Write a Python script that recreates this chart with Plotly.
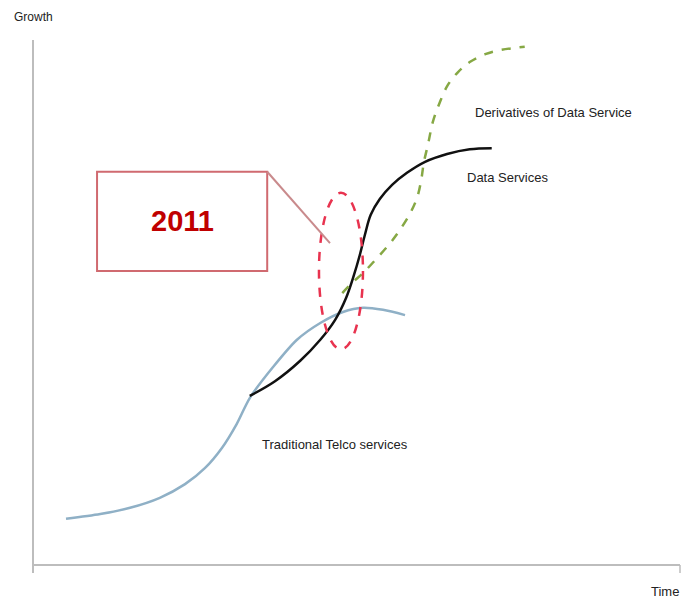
import plotly.graph_objects as go

# Traditional Telco services (S-curve that flattens and dips)
telco_t = [5.1, 10.4, 15.0, 19.6, 23.5, 26.6, 29.2, 31.5, 33.5, 37.1, 40.8, 44.4, 47.9, 51.0, 54.1, 57.5]
telco_g = [8.8, 9.7, 10.9, 12.8, 15.4, 18.5, 22.3, 26.9, 31.8, 37.7, 42.9, 46.1, 48.2, 49.0, 48.6, 47.6]

# Data Services
data_t = [33.5, 37.4, 41.3, 44.4, 46.7, 48.4, 49.6, 50.5, 51.3, 52.2, 53.6, 55.5, 57.8,
          60.6, 64.0, 67.5, 70.9]
data_g = [32.2, 35.0, 38.9, 42.9, 46.7, 50.9, 55.2, 59.0, 62.9, 66.7, 69.7, 72.4, 74.7,
          76.8, 78.3, 79.2, 79.4]

# Derivatives of Data Service
deriv_t = [47.8, 49.3, 51.0, 53.2, 55.2, 56.7, 58.3, 59.4, 60.0, 60.4, 61.1, 61.8, 62.9, 64.1,
           65.7, 67.5, 69.9, 72.2, 74.5, 76.0]
deriv_g = [51.8, 53.7, 55.6, 58.5, 61.3, 63.8, 67.0, 70.1, 73.3, 76.6, 80.4, 84.4, 88.2, 91.4,
           93.9, 95.8, 97.3, 98.1, 98.5, 98.7]

# Highlighted transition window and its callout
ellipse_t = [44.2, 51.0]
ellipse_g = [41.1, 70.9]
box_t = [9.9, 36.2]
box_g = [56.0, 74.9]
callout_t = [36.2, 45.9]
callout_g = [74.9, 61.3]
year_label = "2011"

label_font = "Liberation Sans, Arial, sans-serif"
label_color = "#222222"
axis_grey = "#bdbdbd"

fig = go.Figure()
fig.add_trace(go.Scatter(x=telco_t, y=telco_g, mode="lines", line_shape="spline",
                         line=dict(color="#8fb0c6", width=2.5, smoothing=0.8),
                         name="Traditional Telco services"))
fig.add_trace(go.Scatter(x=data_t, y=data_g, mode="lines", line_shape="spline",
                         line=dict(color="#111111", width=2.5, smoothing=1.0),
                         name="Data Services"))
fig.add_trace(go.Scatter(x=deriv_t, y=deriv_g, mode="lines", line_shape="spline",
                         line=dict(color="#86a844", width=2.5, dash="dash", smoothing=1.0),
                         name="Derivatives of Data Service"))

shapes = [
    # axes
    dict(type="line", xref="paper", yref="paper", x0=0, x1=0, y0=-0.015, y1=1.0,
         line=dict(color=axis_grey, width=2)),
    dict(type="line", xref="paper", yref="paper", x0=0, x1=1.0, y0=0, y1=0,
         line=dict(color=axis_grey, width=2)),
    dict(type="line", xref="paper", yref="paper", x0=1.0, x1=1.0, y0=0, y1=-0.015,
         line=dict(color=axis_grey, width=1.5)),
    # dashed ellipse around the crossover
    dict(type="circle", xref="x", yref="y", x0=ellipse_t[0], x1=ellipse_t[1],
         y0=ellipse_g[0], y1=ellipse_g[1], line=dict(color="#e8334f", width=2.5, dash="dash")),
    # callout box and pointer
    dict(type="rect", xref="x", yref="y", x0=box_t[0], x1=box_t[1], y0=box_g[0], y1=box_g[1],
         line=dict(color="#d06a70", width=2), fillcolor="rgba(0,0,0,0)"),
    dict(type="line", xref="x", yref="y", x0=callout_t[0], x1=callout_t[1],
         y0=callout_g[0], y1=callout_g[1], line=dict(color="#c98a8c", width=2)),
]

annotations = [
    dict(x=(box_t[0] + box_t[1]) / 2, y=(box_g[0] + box_g[1]) / 2, xref="x", yref="y",
         text=f"<b>{year_label}</b>", showarrow=False,
         font=dict(family="Liberation Sans, Arial, sans-serif", size=29, color="#c00000")),
    dict(x=68.0, y=86.1, xref="x", yref="y", xanchor="left", yanchor="middle",
         text="Derivatives of Data Service", showarrow=False,
         font=dict(family=label_font, size=13, color=label_color)),
    dict(x=66.8, y=73.9, xref="x", yref="y", xanchor="left", yanchor="middle",
         text="Data Services", showarrow=False,
         font=dict(family=label_font, size=13, color=label_color)),
    dict(x=35.1, y=22.9, xref="x", yref="y", xanchor="left", yanchor="middle",
         text="Traditional Telco services", showarrow=False,
         font=dict(family=label_font, size=13, color=label_color)),
    dict(x=-0.0325, y=1.044, xref="paper", yref="paper", xanchor="left", yanchor="middle",
         text="Growth", showarrow=False,
         font=dict(family=label_font, size=12, color=label_color)),
    dict(x=1.0015, y=-0.0514, xref="paper", yref="paper", xanchor="right", yanchor="middle",
         text="Time", showarrow=False,
         font=dict(family=label_font, size=13, color=label_color)),
]

fig.update_layout(
    width=682, height=599,
    margin=dict(l=33, r=2, t=40, b=34),
    paper_bgcolor="white", plot_bgcolor="white",
    showlegend=False,
    shapes=shapes, annotations=annotations,
    xaxis=dict(range=[0, 100], visible=False, fixedrange=True),
    yaxis=dict(range=[0, 100], visible=False, fixedrange=True),
)

fig.write_html("out.html", config={"displayModeBar": False})
